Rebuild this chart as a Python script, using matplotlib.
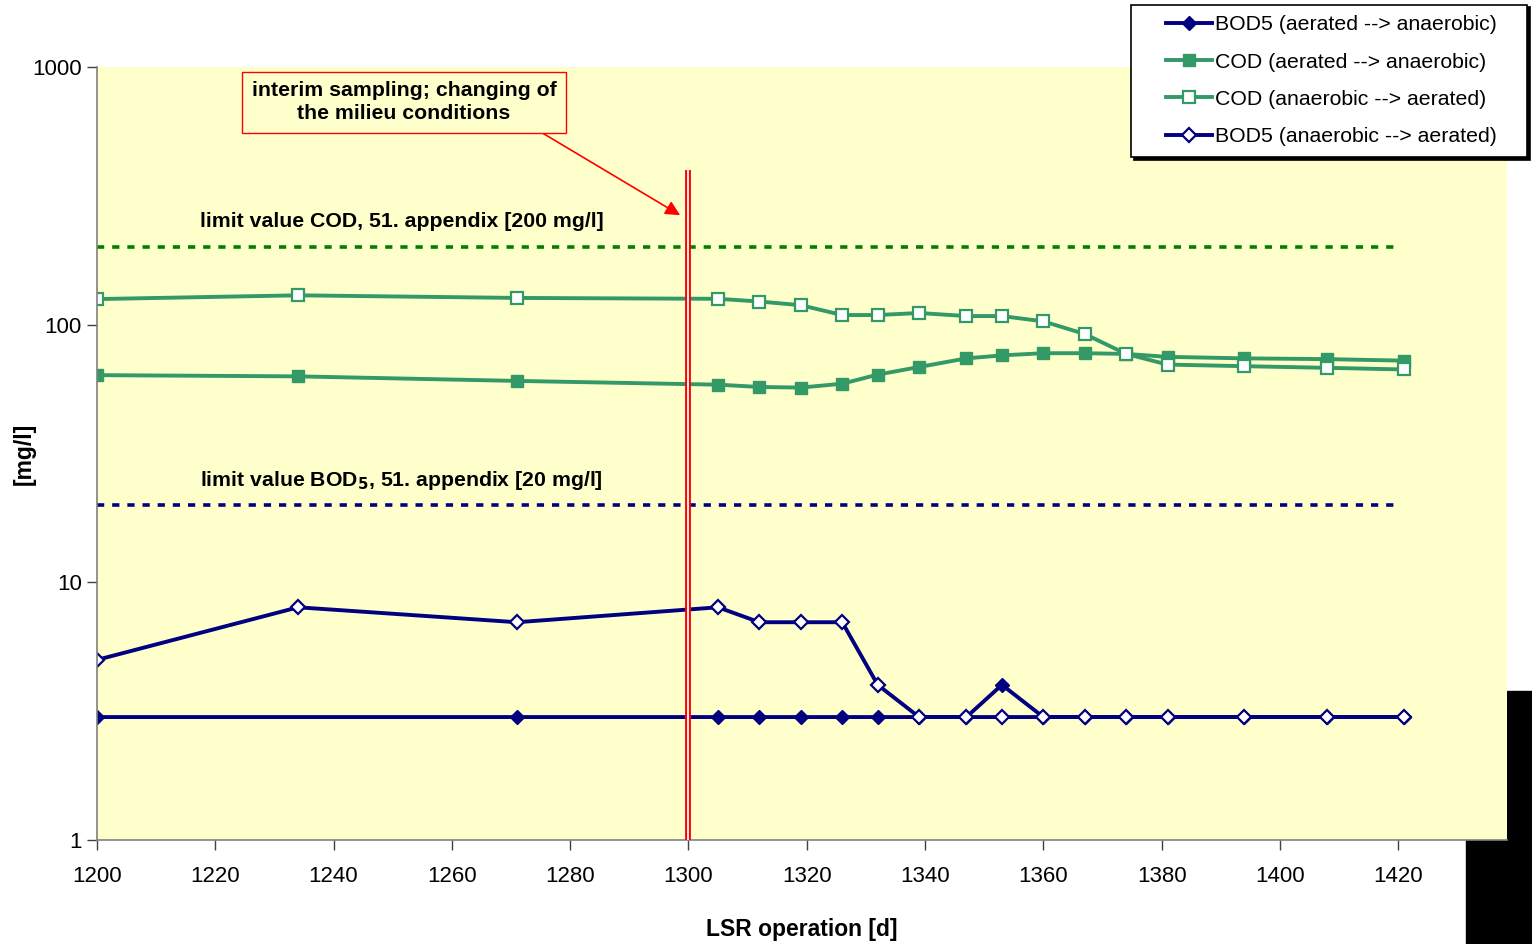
import matplotlib
matplotlib.use("Agg")
import matplotlib.pyplot as plt
from matplotlib.patches import Rectangle
from matplotlib.lines import Line2D
from matplotlib.legend_handler import HandlerLine2D

plt.rcParams['font.family'] = ['Liberation Sans', 'DejaVu Sans']

# operation days
days_all = [1200, 1234, 1271, 1305, 1312, 1319, 1326, 1332, 1339, 1347,
            1353, 1360, 1367, 1374, 1381, 1394, 1408, 1421]
days_bod_aer = [1200, 1271, 1305, 1312, 1319, 1326, 1332, 1339, 1347,
                1353, 1360, 1367, 1374, 1381, 1394, 1408, 1421]

bod_aer_ana = [3, 3, 3, 3, 3, 3, 3, 3, 3, 4, 3, 3, 3, 3, 3, 3, 3]
cod_aer_ana = [63.7, 63, 60.5, 58.5, 57.3, 57, 59, 64, 68.5, 74, 76, 77.5,
               77.5, 77, 75, 74, 73.5, 72.5]
cod_ana_aer = [125.7, 130, 127, 126, 123, 119, 109, 109, 111, 108, 108, 103,
               92, 77, 70, 69, 68, 67]
bod_ana_aer = [5, 8, 7, 8, 7, 7, 7, 4, 3, 3, 3, 3, 3, 3, 3, 3, 3, 3]

limit_x = [1200, 1420]
limit_cod = [200, 200]
limit_bod = [20, 20]
change_day = 1300

navy = '#000080'
green = '#339966'

fig = plt.figure(figsize=(15.32, 9.44), dpi=100)
ax = fig.add_axes([0.0633, 0.1102, 0.9204, 0.8188])
ax.set_facecolor('#FFFFCC')

ax.plot(limit_x, limit_cod, color='#008000', lw=2.6, ls=(0, (2, 2.2)))
ax.plot(limit_x, limit_bod, color=navy, lw=2.6, ls=(0, (2, 2.2)))

l1, = ax.plot(days_bod_aer, bod_aer_ana, color=navy, lw=2.8, marker='D',
              ms=7.5, mfc=navy, mec=navy, label='BOD5 (aerated --> anaerobic)')
l2, = ax.plot(days_all, cod_aer_ana, color=green, lw=2.8, marker='s',
              ms=8.5, mfc=green, mec=green, label='COD (aerated --> anaerobic)')
l3, = ax.plot(days_all, cod_ana_aer, color=green, lw=2.8, marker='s',
              ms=8.5, mfc='white', mec=green, mew=1.6,
              label='COD (anaerobic --> aerated)')
l4, = ax.plot(days_all, bod_ana_aer, color=navy, lw=2.8, marker='D',
              ms=7.5, mfc='white', mec=navy, mew=1.6,
              label='BOD5 (anaerobic --> aerated)')

# double red line marking the change of conditions
ax.plot([change_day, change_day], [1, 400], color='red', lw=4.2,
        solid_capstyle='butt', zorder=5)
ax.plot([change_day, change_day], [1, 400], color='#FFEFEF', lw=1.4,
        solid_capstyle='butt', zorder=6)

ax.annotate('interim sampling; changing of\nthe milieu conditions',
            xy=(1298.6, 266), xytext=(1251.9, 730),
            ha='center', va='center', fontsize=15.3, fontweight='bold',
            linespacing=1.25,
            bbox=dict(boxstyle='square,pad=0.45', fc='#FFFFCC', ec='red',
                      lw=1),
            arrowprops=dict(arrowstyle='-|>', color='red', lw=1.2,
                            mutation_scale=22, shrinkA=0, shrinkB=0,
                            relpos=(0.9, 0.0)))

ax.text(1251.5, 251, 'limit value COD, 51. appendix [200 mg/l]',
        ha='center', va='center', fontsize=15.3, fontweight='bold')
ax.text(1251.5, 24.8, 'limit value BOD$_\\mathbf{5}$, 51. appendix [20 mg/l]',
        ha='center', va='center', fontsize=15.3, fontweight='bold')

ax.set_yscale('log')
ax.set_ylim(1, 1000)
ax.set_xlim(1200, 1438.4)
ax.set_xticks(range(1200, 1421, 20))
ax.set_yticks([1, 10, 100, 1000])
ax.set_yticklabels(['1', '10', '100', '1000'])
ax.minorticks_off()
ax.tick_params(labelsize=16, length=7, color='#404040', width=1)
ax.tick_params(axis='x', pad=12)
ax.tick_params(axis='y', pad=4)

for s in ['top', 'right']:
    ax.spines[s].set_visible(False)
for s in ['left', 'bottom']:
    ax.spines[s].set_color('#808080')
    ax.spines[s].set_linewidth(1.2)

ax.set_xlabel('LSR operation [d]', fontsize=16.5, fontweight='bold')
ax.set_ylabel('[mg/l]', fontsize=16.5, fontweight='bold')
ax.xaxis.set_label_coords(0.5, -0.101)
ax.yaxis.set_label_coords(-0.0433, 0.5)

leg = fig.legend(handles=[l1, l2, l3, l4], loc='upper right',
                 bbox_to_anchor=(1131 / 1532, 0, 396 / 1532, 0.995),
                 mode='expand', fontsize=15.3,
                 frameon=True, fancybox=False, framealpha=1,
                 edgecolor='black', handlelength=3.31, handletextpad=0.14,
                 labelspacing=0.86, borderpad=0.5, borderaxespad=0,
                 handler_map={Line2D: HandlerLine2D(xpad=1.15)},
                 shadow={'color': 'black', 'alpha': 1})
leg.get_frame().set_linewidth(1.2)

# black block at the bottom right of the page
fig.patches.append(Rectangle((1507 / 1532, 0), 1 - 1507 / 1532,
                             1 - 691 / 944, transform=fig.transFigure,
                             color='black', zorder=-1))
fig.patches.append(Rectangle((1466 / 1532, 0), 1 - 1466 / 1532,
                             1 - 840 / 944, transform=fig.transFigure,
                             color='black', zorder=-1))

fig.savefig('out.png', dpi=100)
